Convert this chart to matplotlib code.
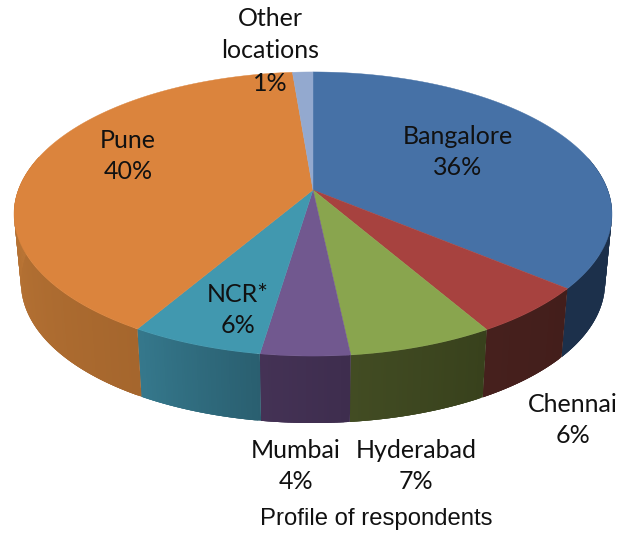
import numpy as np
import matplotlib
matplotlib.use("Agg")
import matplotlib.pyplot as plt
from matplotlib.collections import PolyCollection
from matplotlib.colors import to_rgb

# Data (share of respondents, %; shown rounded on the labels)
categories = ["Bangalore", "Chennai", "Hyderabad", "Mumbai", "NCR*", "Pune", "Other\nlocations"]
values = [36.0, 5.6, 6.7, 4.1, 6.1, 40.2, 1.3]
title = "Profile of respondents"

# Styles
top_colors = ["#4671A6", "#A7423F", "#89A54E", "#71588F", "#4198AF", "#DB843D", "#93A9CF"]
side_left = ["#1C304B", "#46201D", "#424C23", "#443255", "#35788C", "#BE7837", "#5A6A85"]
side_right = ["#1C304B", "#431E1B", "#38411C", "#3E2D4E", "#2A5F70", "#A5662D", "#5A6A85"]
label_pos = [(458, 152), (573, 420), (416, 466), (296, 466), (238, 310), (128, 156), (270, 51)]
label_spacing = [1.4, 1.4, 1.4, 1.4, 1.4, 1.4, 1.48]

# Projection of the pie circle (in figure pixels)
CX, CY = 313.0, 190.0
A, B, K = 294.7, 138.0, 0.169
S_BOTTOM, B_BOTTOM, Y_BOTTOM, BULGE = 0.977, 148.0, 249.0, 8.0


def top_xy(t):
    u, v = np.sin(t), -np.cos(t)
    d = 1 - K * v
    return CX + A * u / d, CY + B * v / d


def bottom_xy(t):
    u, v = np.sin(t), -np.cos(t)
    d = 1 - K * v
    return CX + S_BOTTOM * A * u / d, Y_BOTTOM + S_BOTTOM * B_BOTTOM * v / d + BULGE * (1 - v ** 2)


fig = plt.figure(figsize=(6.19, 5.36), dpi=100)
ax = fig.add_axes([0, 0, 1, 1])
ax.set_xlim(0, 619)
ax.set_ylim(536, 0)
ax.axis("off")

edges = np.concatenate([[0], np.cumsum(values)]) / sum(values) * 2 * np.pi

# Side wall: overlapping strips painted in order, so no seams show between them
for i in range(len(values)):
    ts = np.linspace(edges[i], edges[i + 1], max(8, int(values[i] * 8)))
    vis = -np.cos(ts) > -0.25
    if vis.sum() < 2:
        continue
    ts = ts[vis]
    xt, yt = top_xy(ts)
    xb, yb = bottom_xy(ts)
    quads, cols = [], []
    c0, c1 = np.array(to_rgb(side_left[i])), np.array(to_rgb(side_right[i]))
    n = len(ts)
    for j in range(n - 1):
        e = min(j + 3, n - 1)
        quads.append(list(zip(xt[j:e + 1], yt[j:e + 1])) + list(zip(xb[j:e + 1][::-1], yb[j:e + 1][::-1])))
        f = j / max(1, n - 2)
        cols.append(c1 + (c0 - c1) * f)
    ax.add_collection(PolyCollection(quads, facecolors=cols, edgecolors="none", zorder=2 + i * 0.01))

# Top faces
for i in range(len(values)):
    ts = np.linspace(edges[i], edges[i + 1], 200)
    x, y = top_xy(ts)
    ax.fill(np.r_[CX, x], np.r_[CY, y], facecolor=top_colors[i], edgecolor=top_colors[i], linewidth=0.3, zorder=3)

# Labels
for name, val, (lx, ly), ls in zip(categories, values, label_pos, label_spacing):
    ax.text(lx, ly, f"{name}\n{val:.0f}%", ha="center", va="center", fontsize=18,
            family="Lato", color="#111111", linespacing=ls, zorder=5)

ax.text(376, 519, title, ha="center", va="center", fontsize=17.2, family="Liberation Sans", color="#111111", zorder=5)

fig.savefig("out.png", dpi=100)
